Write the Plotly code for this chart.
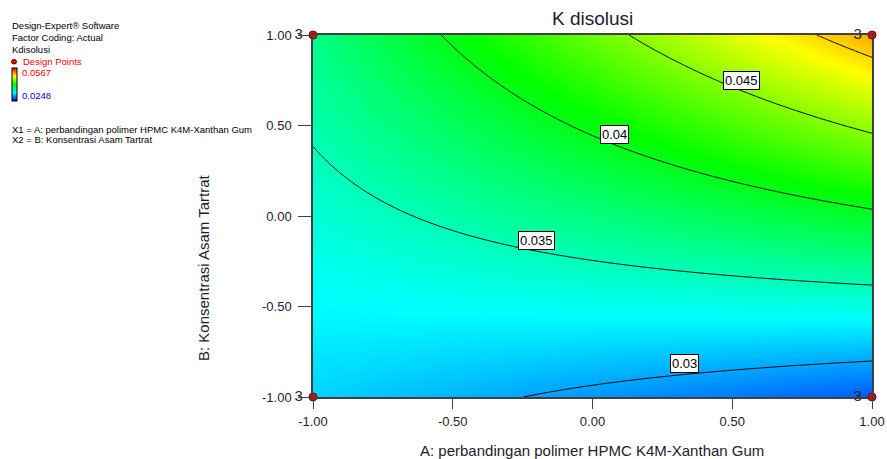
import numpy as np
import plotly.graph_objects as go

# ---------------- data ----------------
tick_values = [-1.0, -0.5, 0.0, 0.5, 1.0]
tick_labels = ["-1.00", "-0.50", "0.00", "0.50", "1.00"]

# fitted response model: K = b0 + bA*A + bB*B + bAB*A*B  (coded factors)
model_terms = ["Intercept", "A", "B", "AB"]
model_coefs = [0.03678, 0.00277, 0.00725, 0.00467]

# design points (coded) and replicate counts
design_a = [-1.0, 1.0, -1.0, 1.0]
design_b = [1.0, 1.0, -1.0, -1.0]
design_reps = [3, 3, 3, 3]

# contour levels and label positions
contour_levels = [0.03, 0.035, 0.04, 0.045, 0.05]
labeled_levels = [0.03, 0.035, 0.04, 0.045]
label_a = [0.329, -0.201, 0.078, 0.532]
label_b = [-0.814, -0.133, 0.453, 0.746]

# response range of the data
k_min, k_max = 0.0248, 0.0567

title_text = "K disolusi"
x_title = "A: perbandingan polimer HPMC K4M-Xanthan Gum"
y_title = "B: Konsentrasi Asam Tartrat"
info_lines = ["Design-Expert® Software", "Factor Coding: Actual", "Kdisolusi"]
factor_lines = ["X1 = A: perbandingan polimer HPMC K4M-Xanthan Gum",
                "X2 = B: Konsentrasi Asam Tartrat"]

# ---------------- surface ----------------
coef = dict(zip(model_terms, model_coefs))
grid = np.linspace(-1, 1, 241)
GA, GB = np.meshgrid(grid, grid)
Z = coef["Intercept"] + coef["A"] * GA + coef["B"] * GB + coef["AB"] * GA * GB

# ---------------- layout geometry (reference pixels) ----------------
W, H = 887, 459
L, R, T, Bt = 313, 872, 35, 397
PW, PH = R - L, Bt - T


def px(x):
    return (x - L) / PW


def py(y):
    return (Bt - y) / PH


FONT = "Liberation Sans, Arial, sans-serif"
INK = "#1c1c2c"

colorscale = [[0.0, "rgb(0,0,255)"], [0.25, "rgb(0,255,255)"],
              [0.5, "rgb(0,255,0)"], [0.75, "rgb(255,255,0)"],
              [1.0, "rgb(255,0,0)"]]

fig = go.Figure()

fig.add_trace(go.Heatmap(
    x=grid, y=grid, z=Z, zmin=k_min, zmax=k_max, colorscale=colorscale,
    zsmooth="best", hoverinfo="skip",
    colorbar=dict(x=px(12), xanchor="left", y=py(68), yanchor="top",
                  len=33, lenmode="pixels", thickness=5, thicknessmode="pixels",
                  outlinewidth=1, outlinecolor="black", showticklabels=False,
                  ticks="", xpad=0, ypad=0),
))

fig.add_trace(go.Contour(
    x=grid, y=grid, z=Z, showscale=False, hoverinfo="skip",
    contours=dict(start=min(contour_levels), end=max(contour_levels) + 1e-6,
                  size=contour_levels[1] - contour_levels[0], coloring="none"),
    line=dict(color="black", width=1),
))

fig.add_trace(go.Scatter(
    x=design_a, y=design_b, mode="markers+text",
    text=[str(n) + " " for n in design_reps], textposition="middle left",
    textfont=dict(family=FONT, size=15, color=INK),
    marker=dict(size=8, color="red", line=dict(color="#700000", width=1)),
    cliponaxis=False, showlegend=False, hoverinfo="skip",
))

annotations = []
for lev, a, b in zip(labeled_levels, label_a, label_b):
    annotations.append(dict(
        x=a, y=b, xref="x", yref="y", text=f"{lev:g}", showarrow=False,
        font=dict(family=FONT, size=13, color="black"),
        bgcolor="white", bordercolor="black", borderwidth=1, borderpad=1,
    ))

# side info block
for t, yy in zip(info_lines, [26, 37.5, 49]):
    annotations.append(dict(x=px(10), y=py(yy), xref="paper", yref="paper",
                            text=t, showarrow=False, xanchor="left", yanchor="middle",
                            font=dict(family=FONT, size=9.5, color="black")))
annotations.append(dict(x=px(21), y=py(61), xref="paper", yref="paper",
                        text="Design Points", showarrow=False, xanchor="left",
                        yanchor="middle", font=dict(family=FONT, size=9.5, color="red")))
annotations.append(dict(x=px(20), y=py(72), xref="paper", yref="paper",
                        text=f"{k_max:.4f}", showarrow=False, xanchor="left",
                        yanchor="middle", font=dict(family=FONT, size=9.5, color="red")))
annotations.append(dict(x=px(20), y=py(96), xref="paper", yref="paper",
                        text=f"{k_min:.4f}", showarrow=False, xanchor="left",
                        yanchor="middle", font=dict(family=FONT, size=9.5, color="blue")))
for t, yy in zip(factor_lines, [129, 139]):
    annotations.append(dict(x=px(10), y=py(yy), xref="paper", yref="paper",
                            text=t, showarrow=False, xanchor="left", yanchor="middle",
                            font=dict(family=FONT, size=9.5, color="black")))

# axis titles and chart title
annotations.append(dict(x=px(592), y=py(450), xref="paper", yref="paper",
                        text=x_title, showarrow=False, xanchor="center",
                        yanchor="middle", font=dict(family=FONT, size=15, color=INK)))
annotations.append(dict(x=px(203), y=py(268), xref="paper", yref="paper",
                        text=y_title, showarrow=False, textangle=-90,
                        xanchor="center", yanchor="middle",
                        font=dict(family=FONT, size=15, color=INK)))
annotations.append(dict(x=0.5, y=py(19), xref="paper", yref="paper",
                        text=title_text, showarrow=False, xanchor="center",
                        yanchor="middle", font=dict(family=FONT, size=19, color=INK)))

shapes = [dict(type="circle", xref="paper", yref="paper",
               x0=px(11.5), x1=px(16.5), y0=py(59.5), y1=py(64),
               fillcolor="red", line=dict(color="#500000", width=1))]

axis_common = dict(
    range=[-1, 1], tickvals=tick_values, ticktext=tick_labels,
    showline=True, mirror=True, linecolor="#404040", linewidth=1.5,
    ticks="outside", tickcolor="#404040", tickwidth=1,
    showgrid=False, zeroline=False,
    tickfont=dict(family=FONT, size=13, color=INK),
)

fig.update_layout(
    width=W, height=H,
    margin=dict(l=L, r=W - R, t=T, b=H - Bt, autoexpand=False),
    paper_bgcolor="white", plot_bgcolor="white",
    xaxis=dict(axis_common, ticklen=10, ticklabelstandoff=2),
    yaxis=dict(axis_common, ticklen=13, ticklabelstandoff=4),
    annotations=annotations, shapes=shapes, showlegend=False,
)

fig.write_html(
    "out.html",
    config={"displayModeBar": False},
    post_script="document.body.style.margin='0';document.body.style.overflow='hidden';",
)
